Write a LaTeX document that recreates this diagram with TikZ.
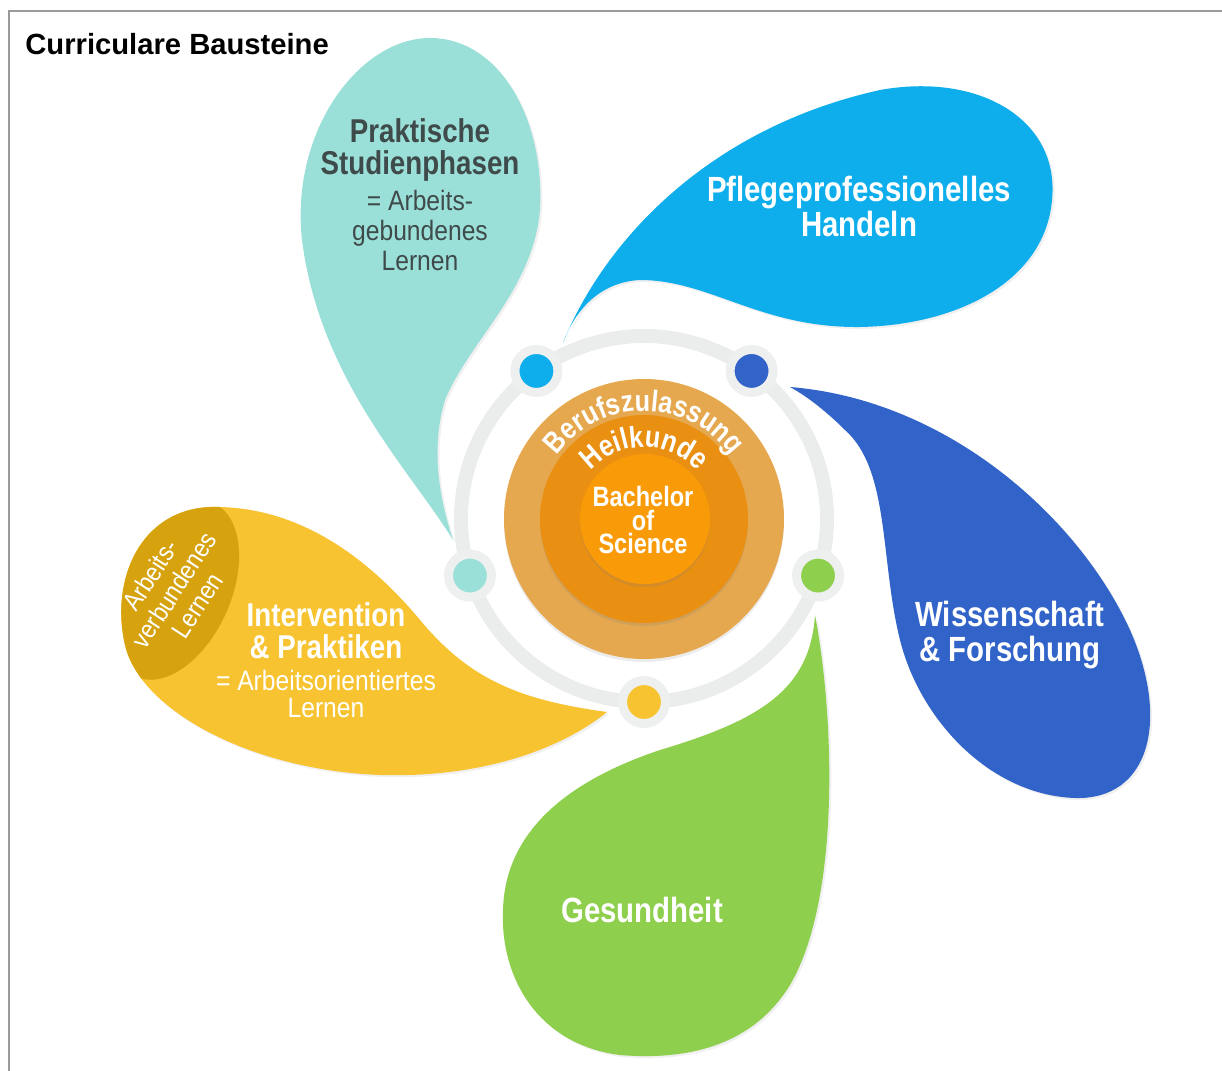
\documentclass[tikz,border=0pt]{standalone}
\usepackage{fontspec}
\setmainfont{Liberation Sans}
\newfontfamily\narrowfont[FakeStretch=0.84]{Liberation Sans}
\newfontfamily\thinfont[FakeStretch=0.88]{Liberation Sans}
\usetikzlibrary{positioning, calc, decorations.text, shadows}

\definecolor{framegray}{HTML}{9A9A9A}
\definecolor{tealleaf}{HTML}{9BE0D8}
\definecolor{blueleaf}{HTML}{0DAEEB}
\definecolor{navyleaf}{HTML}{3163C9}
\definecolor{greenleaf}{HTML}{8FCF4E}
\definecolor{yellowleaf}{HTML}{F7C331}
\definecolor{ochre}{HTML}{D6A20E}
\definecolor{tanorange}{HTML}{E6A84F}
\definecolor{midorange}{HTML}{E98F12}
\definecolor{coreorange}{HTML}{F99B08}
\definecolor{ringgray}{HTML}{EBEDED}
\definecolor{halogray}{HTML}{EEEFEF}
\definecolor{tealtext}{HTML}{3F4A4A}

% the yellow leaf is filled and also used as clip
\newcommand{\yellowpath}{(607,712) .. controls (520,700) and (470,680) .. (420,620)
  .. controls (370,560) and (300,505) .. (210,507)
  .. controls (140,510) and (110,580) .. (125,645)
  .. controls (140,710) and (250,770) .. (380,775)
  .. controls (480,778) and (560,750) .. (607,712) -- cycle}

\tikzset{
	x=0.5pt, y=-0.5pt, % pixel grid, y runs downwards
	leaf/.style={drop shadow={shadow xshift=1pt, shadow yshift=-1pt, opacity=0.12}},
	title/.style={inner sep=0pt, font=\bfseries\fontsize{14.6}{16}\selectfont},
	bighead/.style={text=white, align=center, inner sep=0pt, font=\narrowfont\bfseries\fontsize{17.5}{17.5}\selectfont},
	head/.style={text=white, align=center, inner sep=0pt, font=\narrowfont\bfseries\fontsize{16.5}{16}\selectfont},
	subline/.style={text=white, align=center, inner sep=0pt, font=\thinfont\fontsize{14}{13.5}\selectfont},
	disc/.style={circle, inner sep=0pt, minimum size=#1},
	dot/.style={circle, inner sep=0pt, minimum size=21.5pt, draw=halogray, line width=4.5pt, fill=#1},
	arctext/.style={postaction={decorate}, decoration={text along path, text align=center,
		text={|\color{white}\narrowfont\bfseries\fontsize{15}{15}\selectfont|#1}}},
}

\begin{document}
\begin{tikzpicture}
	\useasboundingbox (0,0) rectangle (1222,1071);
	% only the top and left edge of the frame show
	\draw[framegray, line width=1pt] (1222,10.5) -- (8.5,10.5) -- (8.5,1071);
	\node[title, anchor=base west] (title) at (25,54) {Curriculare Bausteine};

	\coordinate (ctr) at (644,519);

	% leaves
	\fill[tealleaf, leaf] (453,540) .. controls (410,470) and (320,380) .. (302,240)
		.. controls (290,130) and (360,38) .. (430,38)
		.. controls (500,38) and (545,120) .. (540,210)
		.. controls (533,290) and (470,340) .. (445,400)
		.. controls (430,450) and (440,500) .. (453,540) -- cycle;
	\fill[blueleaf, leaf] (563,343) .. controls (600,250) and (700,130) .. (880,90)
		.. controls (980,72) and (1060,120) .. (1052,200)
		.. controls (1045,280) and (960,325) .. (860,327)
		.. controls (760,328) and (710,280) .. (640,280)
		.. controls (600,282) and (575,310) .. (563,343) -- cycle;
	\fill[navyleaf, leaf] (790,387) .. controls (950,400) and (1080,520) .. (1130,630)
		.. controls (1170,720) and (1150,800) .. (1075,798)
		.. controls (990,795) and (920,720) .. (900,640)
		.. controls (880,560) and (890,470) .. (845,430)
		.. controls (825,410) and (805,395) .. (790,387) -- cycle;
	\fill[greenleaf, leaf] (815,615) .. controls (835,720) and (840,900) .. (790,985)
		.. controls (750,1050) and (680,1060) .. (620,1055)
		.. controls (540,1045) and (500,980) .. (503,910)
		.. controls (505,830) and (570,780) .. (660,750)
		.. controls (760,720) and (810,690) .. (815,615) -- cycle;
	\fill[yellowleaf, leaf] \yellowpath;
	\begin{scope}
		\clip \yellowpath;
		\fill[ochre, rotate around={-24:(175,590)}] (175,590) ellipse[x radius=56, y radius=95];
	\end{scope}

	% ring with the five dots
	\draw[ringgray, line width=7pt] (ctr) circle[radius=183];
	\foreach \ang/\col/\name in {90/yellowleaf/dy, 18/greenleaf/dg, -54/navyleaf/dn, -126/blueleaf/db, 162/tealleaf/dt}
		\node[dot=\col] (\name) at ($(ctr)+(\ang:183)$) {};

	% centre
	\node[disc=140pt, fill=tanorange, drop shadow={shadow xshift=0pt, shadow yshift=-1.5pt, opacity=0.15}] (outer) at (ctr) {};
	\node[disc=104pt, fill=midorange, drop shadow={shadow xshift=0pt, shadow yshift=-1.5pt, opacity=0.2}] (middle) at (ctr) {};
	\node[disc=65pt, fill=coreorange, drop shadow={shadow xshift=0pt, shadow yshift=-1.5pt, opacity=0.2}] (core) at (645,519) {};
	\path[arctext=Berufszulassung] (ctr) ++(-165:108) arc[start angle=-165, end angle=-15, radius=108];
	\path[arctext=Heilkunde] (ctr) ++(-170:72) arc[start angle=-170, end angle=-10, radius=72];
	\node[text=white, align=center, inner sep=0pt, font=\narrowfont\bfseries\fontsize{14}{11.7}\selectfont] (bsc) at (643,520) {Bachelor\\of\\Science};

	% texts on the leaves
	\node[head, text=tealtext] (praxis) at (420,150) {Praktische\\Studienphasen};
	\node[subline, text=tealtext, below=4pt of praxis, font=\thinfont\fontsize{14}{15}\selectfont] (praxissub) {= Arbeits-\\gebundenes\\Lernen};
	\node[bighead] (pflege) at (859,206) {Pflegeprofessionelles\\Handeln};
	\node[bighead] (wiss) at (1010,635) {Wissenschaft\\\& Forschung};
	\node[bighead] (gesund) at (642,910) {Gesundheit};
	\node[head] (interv) at (326,631) {Intervention\\\& Praktiken};
	\node[subline, below=5pt of interv] (intervsub) {= Arbeitsorientiertes\\Lernen};
	\node[subline, rotate=57, font=\thinfont\fontsize{13}{14}\selectfont] (verbund) at (174,590) {Arbeits-\\verbundenes\\Lernen};
\end{tikzpicture}
\end{document}
